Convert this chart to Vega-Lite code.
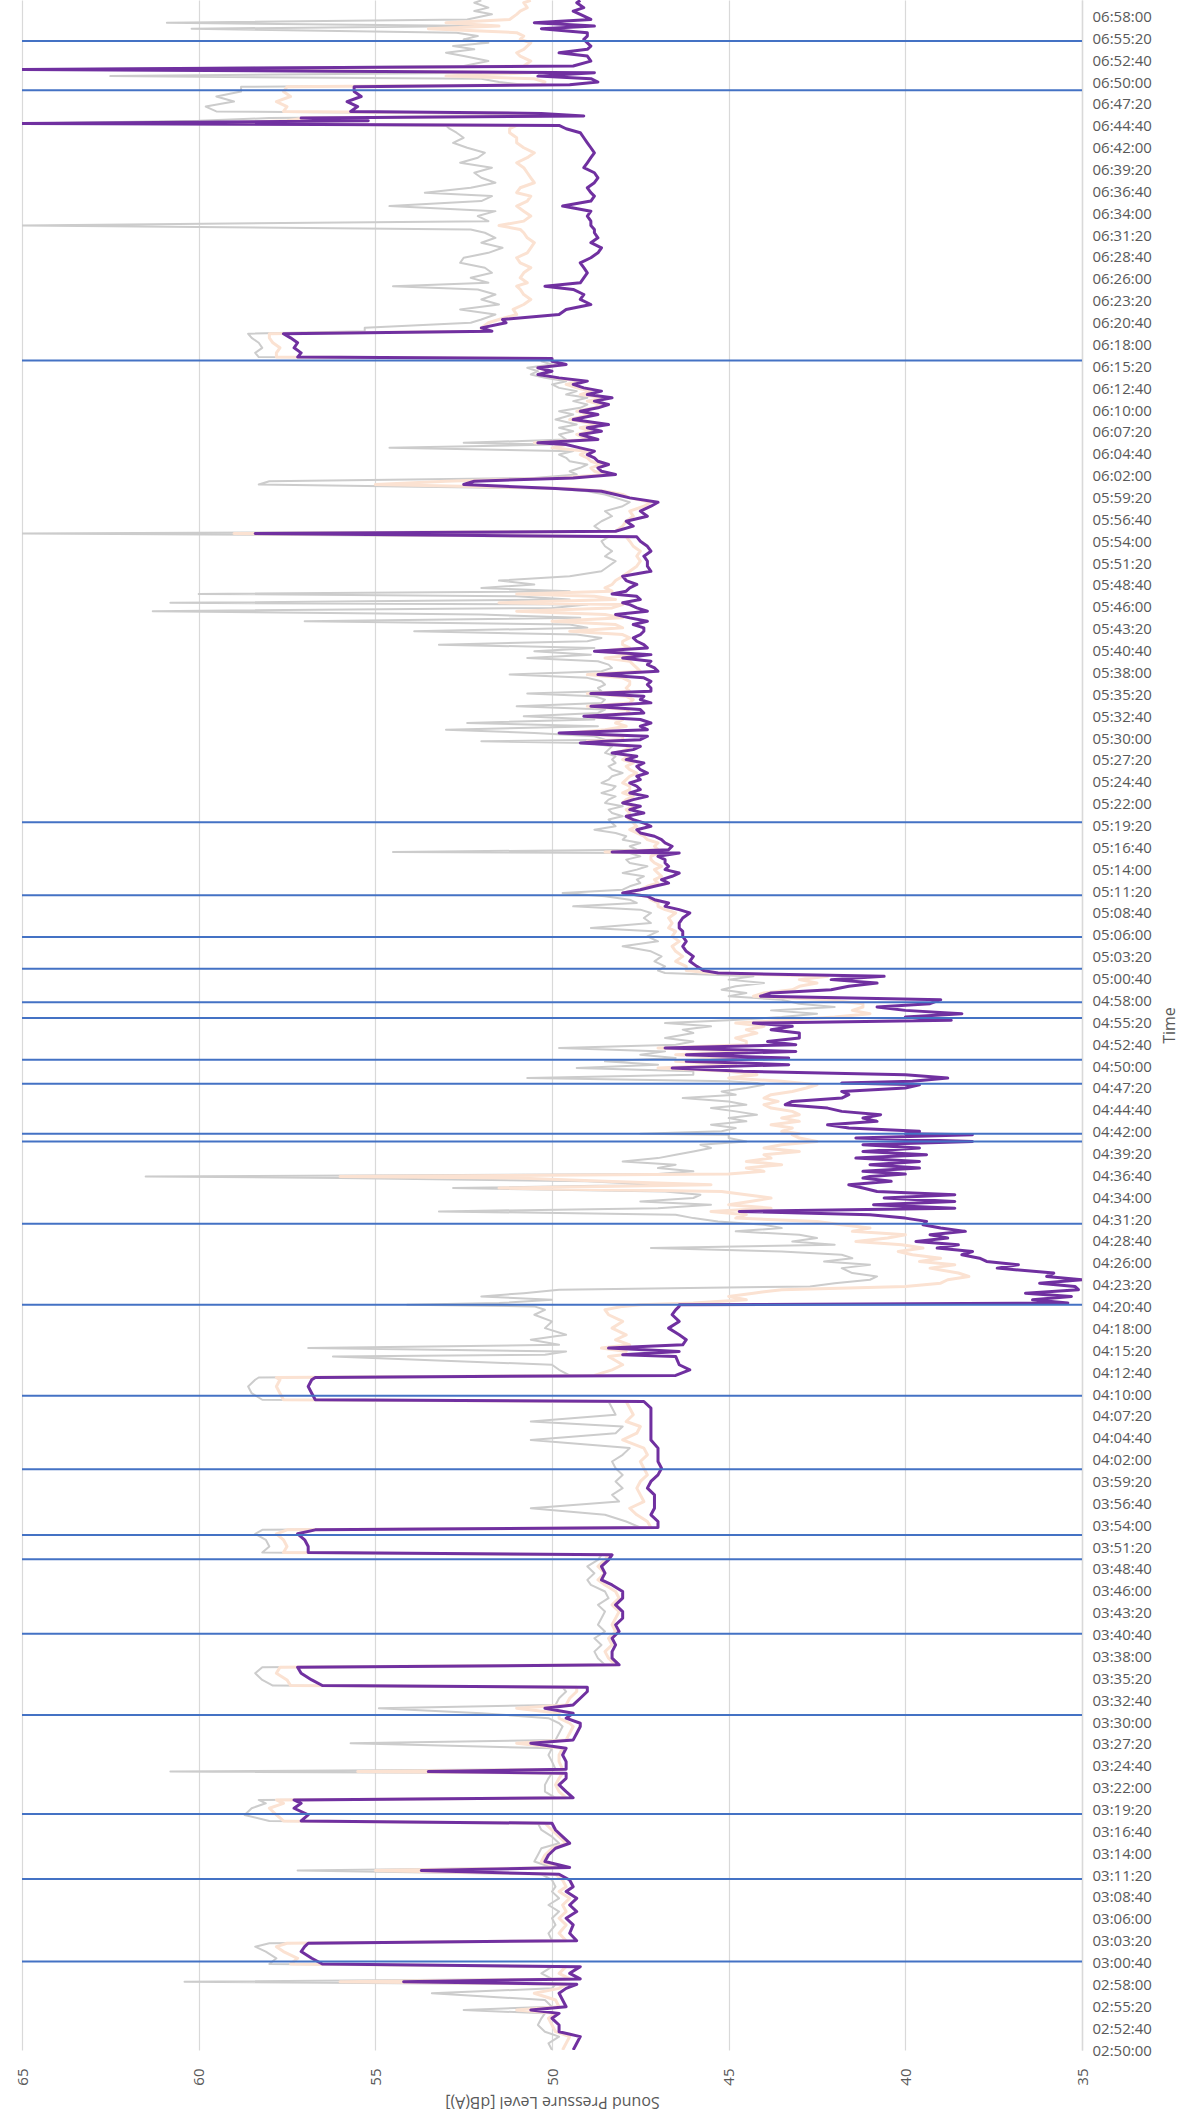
{
  "$schema": "https://vega.github.io/schema/vega-lite/v6.json",
  "width": 1060,
  "height": 2050,
  "padding": {"left": 15, "top": 0, "right": 0, "bottom": 0},
  "background": "white",
  "config": {"view": {"stroke": null}, "font": "Open Sans"},
  "datasets": {
    "levels": [
      {"t":10200,"upper":50.0,"middle":49.7,"lower":49.4},
      {"t":10249,"upper":50.1,"middle":49.6,"lower":49.3},
      {"t":10298,"upper":49.8,"middle":49.5,"lower":49.2},
      {"t":10334,"upper":50.2,"middle":49.9,"lower":49.8},
      {"t":10383,"upper":50.4,"middle":50.0,"lower":49.8},
      {"t":10432,"upper":50.3,"middle":50.1,"lower":50.0},
      {"t":10468,"upper":50.2,"middle":49.9,"lower":49.8},
      {"t":10493,"upper":52.5,"middle":51.0,"lower":50.6},
      {"t":10517,"upper":50.0,"middle":49.8,"lower":49.6},
      {"t":10566,"upper":50.2,"middle":49.9,"lower":49.7},
      {"t":10615,"upper":53.4,"middle":50.5,"lower":49.8},
      {"t":10651,"upper":50.0,"middle":49.8,"lower":49.6},
      {"t":10681,"upper":49.9,"middle":49.6,"lower":49.3},
      {"t":10700,"upper":60.4,"middle":56.0,"lower":54.2},
      {"t":10720,"upper":50.0,"middle":49.5,"lower":49.2},
      {"t":10761,"upper":50.3,"middle":49.8,"lower":49.5},
      {"t":10810,"upper":50.0,"middle":49.6,"lower":49.2},
      {"t":10829,"upper":58.0,"middle":57.4,"lower":56.5},
      {"t":10871,"upper":57.8,"middle":57.2,"lower":56.8},
      {"t":10920,"upper":58.1,"middle":57.6,"lower":57.1},
      {"t":10956,"upper":58.4,"middle":57.8,"lower":57.0},
      {"t":10981,"upper":58.0,"middle":57.5,"lower":56.9},
      {"t":11000,"upper":50.0,"middle":49.6,"lower":49.3},
      {"t":11054,"upper":50.1,"middle":49.8,"lower":49.5},
      {"t":11115,"upper":49.9,"middle":49.6,"lower":49.4},
      {"t":11164,"upper":50.0,"middle":49.8,"lower":49.6},
      {"t":11213,"upper":49.8,"middle":49.6,"lower":49.3},
      {"t":11261,"upper":50.1,"middle":49.7,"lower":49.5},
      {"t":11310,"upper":49.8,"middle":49.5,"lower":49.3},
      {"t":11359,"upper":50.0,"middle":49.8,"lower":49.6},
      {"t":11395,"upper":49.9,"middle":49.6,"lower":49.4},
      {"t":11444,"upper":50.0,"middle":49.7,"lower":49.5},
      {"t":11486,"upper":50.3,"middle":49.9,"lower":49.8},
      {"t":11513,"upper":57.2,"middle":55.0,"lower":53.7},
      {"t":11535,"upper":50.0,"middle":49.8,"lower":49.5},
      {"t":11579,"upper":50.5,"middle":50.3,"lower":50.2},
      {"t":11627,"upper":50.4,"middle":50.2,"lower":50.1},
      {"t":11676,"upper":50.3,"middle":50.0,"lower":49.9},
      {"t":11713,"upper":49.8,"middle":49.6,"lower":49.5},
      {"t":11761,"upper":50.0,"middle":49.8,"lower":49.7},
      {"t":11810,"upper":50.3,"middle":50.0,"lower":49.9},
      {"t":11859,"upper":50.4,"middle":50.2,"lower":50.0},
      {"t":11876,"upper":58.0,"middle":57.6,"lower":57.1},
      {"t":11920,"upper":58.7,"middle":57.8,"lower":56.9},
      {"t":11969,"upper":58.5,"middle":58.0,"lower":57.3},
      {"t":12005,"upper":58.1,"middle":57.6,"lower":57.1},
      {"t":12030,"upper":58.3,"middle":57.8,"lower":57.3},
      {"t":12045,"upper":49.9,"middle":49.6,"lower":49.4},
      {"t":12091,"upper":50.2,"middle":49.8,"lower":49.6},
      {"t":12140,"upper":50.2,"middle":49.9,"lower":49.8},
      {"t":12188,"upper":50.1,"middle":49.8,"lower":49.6},
      {"t":12225,"upper":50.0,"middle":49.7,"lower":49.6},
      {"t":12237,"upper":60.8,"middle":55.5,"lower":53.5},
      {"t":12254,"upper":49.9,"middle":49.7,"lower":49.6},
      {"t":12310,"upper":50.0,"middle":49.8,"lower":49.6},
      {"t":12359,"upper":50.1,"middle":49.8,"lower":49.7},
      {"t":12408,"upper":50.0,"middle":49.7,"lower":49.6},
      {"t":12445,"upper":55.7,"middle":51.0,"lower":50.6},
      {"t":12469,"upper":49.9,"middle":49.6,"lower":49.4},
      {"t":12518,"upper":49.8,"middle":49.5,"lower":49.3},
      {"t":12567,"upper":49.7,"middle":49.4,"lower":49.2},
      {"t":12591,"upper":49.8,"middle":49.5,"lower":49.2},
      {"t":12628,"upper":50.1,"middle":49.8,"lower":49.6},
      {"t":12664,"upper":52.0,"middle":49.8,"lower":49.4},
      {"t":12701,"upper":54.9,"middle":51.0,"lower":50.2},
      {"t":12725,"upper":49.9,"middle":49.6,"lower":49.4},
      {"t":12774,"upper":49.8,"middle":49.5,"lower":49.2},
      {"t":12823,"upper":49.6,"middle":49.3,"lower":49.0},
      {"t":12854,"upper":49.7,"middle":49.3,"lower":49.0},
      {"t":12867,"upper":57.9,"middle":57.4,"lower":56.5},
      {"t":12908,"upper":58.2,"middle":57.5,"lower":56.8},
      {"t":12957,"upper":58.4,"middle":57.8,"lower":57.1},
      {"t":13001,"upper":58.2,"middle":57.7,"lower":57.2},
      {"t":13018,"upper":48.5,"middle":48.2,"lower":48.1},
      {"t":13067,"upper":48.7,"middle":48.4,"lower":48.3},
      {"t":13115,"upper":48.8,"middle":48.5,"lower":48.3},
      {"t":13164,"upper":48.6,"middle":48.3,"lower":48.2},
      {"t":13213,"upper":48.8,"middle":48.4,"lower":48.3},
      {"t":13262,"upper":48.5,"middle":48.2,"lower":48.1},
      {"t":13311,"upper":48.7,"middle":48.3,"lower":48.2},
      {"t":13359,"upper":48.6,"middle":48.2,"lower":48.0},
      {"t":13408,"upper":48.5,"middle":48.1,"lower":48.0},
      {"t":13457,"upper":48.7,"middle":48.3,"lower":48.2},
      {"t":13506,"upper":48.4,"middle":48.1,"lower":48.0},
      {"t":13555,"upper":48.5,"middle":48.2,"lower":48.0},
      {"t":13603,"upper":48.9,"middle":48.5,"lower":48.3},
      {"t":13640,"upper":49.0,"middle":48.7,"lower":48.6},
      {"t":13689,"upper":48.8,"middle":48.5,"lower":48.5},
      {"t":13738,"upper":49.0,"middle":48.7,"lower":48.6},
      {"t":13786,"upper":48.7,"middle":48.5,"lower":48.4},
      {"t":13823,"upper":48.6,"middle":48.4,"lower":48.3},
      {"t":13840,"upper":58.2,"middle":57.6,"lower":56.9},
      {"t":13884,"upper":58.0,"middle":57.5,"lower":56.9},
      {"t":13933,"upper":58.1,"middle":57.6,"lower":57.0},
      {"t":13977,"upper":58.4,"middle":57.8,"lower":57.2},
      {"t":14006,"upper":58.2,"middle":57.5,"lower":56.7},
      {"t":14023,"upper":47.5,"middle":47.2,"lower":47.0},
      {"t":14067,"upper":47.9,"middle":47.3,"lower":47.0},
      {"t":14116,"upper":48.5,"middle":47.6,"lower":47.2},
      {"t":14164,"upper":50.6,"middle":47.8,"lower":47.1},
      {"t":14213,"upper":48.1,"middle":47.4,"lower":47.1},
      {"t":14262,"upper":48.3,"middle":47.5,"lower":47.1},
      {"t":14311,"upper":48.0,"middle":47.6,"lower":47.3},
      {"t":14360,"upper":48.2,"middle":47.5,"lower":47.2},
      {"t":14408,"upper":48.0,"middle":47.3,"lower":47.0},
      {"t":14457,"upper":48.2,"middle":47.4,"lower":46.9},
      {"t":14506,"upper":48.3,"middle":47.5,"lower":47.0},
      {"t":14555,"upper":48.0,"middle":47.3,"lower":47.0},
      {"t":14604,"upper":47.8,"middle":47.4,"lower":47.0},
      {"t":14664,"upper":50.6,"middle":48.0,"lower":47.2},
      {"t":14713,"upper":48.2,"middle":47.6,"lower":47.2},
      {"t":14762,"upper":48.0,"middle":47.5,"lower":47.2},
      {"t":14799,"upper":50.6,"middle":47.9,"lower":47.2},
      {"t":14848,"upper":48.2,"middle":47.7,"lower":47.2},
      {"t":14897,"upper":48.3,"middle":47.8,"lower":47.2},
      {"t":14945,"upper":48.4,"middle":47.9,"lower":47.4},
      {"t":14958,"upper":58.2,"middle":57.6,"lower":56.7},
      {"t":15006,"upper":58.5,"middle":57.7,"lower":56.8},
      {"t":15055,"upper":58.6,"middle":57.8,"lower":56.9},
      {"t":15104,"upper":58.4,"middle":57.7,"lower":56.8},
      {"t":15121,"upper":58.3,"middle":57.8,"lower":56.7},
      {"t":15136,"upper":49.5,"middle":48.8,"lower":46.5},
      {"t":15177,"upper":49.8,"middle":48.3,"lower":46.1},
      {"t":15214,"upper":50.0,"middle":48.0,"lower":46.4},
      {"t":15275,"upper":56.2,"middle":48.4,"lower":46.5},
      {"t":15287,"upper":50.2,"middle":48.0,"lower":48.0},
      {"t":15311,"upper":49.6,"middle":47.9,"lower":46.4},
      {"t":15336,"upper":56.9,"middle":48.6,"lower":48.4},
      {"t":15360,"upper":49.8,"middle":47.8,"lower":46.3},
      {"t":15397,"upper":50.6,"middle":48.2,"lower":46.2},
      {"t":15433,"upper":49.6,"middle":47.9,"lower":46.4},
      {"t":15482,"upper":50.2,"middle":48.3,"lower":46.7},
      {"t":15531,"upper":50.0,"middle":48.0,"lower":46.4},
      {"t":15580,"upper":50.5,"middle":48.4,"lower":46.6},
      {"t":15616,"upper":50.2,"middle":48.5,"lower":46.5},
      {"t":15641,"upper":50.5,"middle":48.0,"lower":46.4},
      {"t":15653,"upper":54.1,"middle":47.5,"lower":46.4},
      {"t":15665,"upper":51.5,"middle":46.0,"lower":35.4},
      {"t":15689,"upper":50.0,"middle":44.5,"lower":36.4},
      {"t":15714,"upper":52.0,"middle":45.0,"lower":35.3},
      {"t":15738,"upper":50.8,"middle":44.3,"lower":36.6},
      {"t":15763,"upper":49.8,"middle":43.5,"lower":35.1},
      {"t":15787,"upper":42.7,"middle":40.0,"lower":35.2},
      {"t":15811,"upper":42.0,"middle":39.0,"lower":36.2},
      {"t":15836,"upper":41.0,"middle":38.8,"lower":35.0},
      {"t":15860,"upper":40.8,"middle":38.2,"lower":36.0},
      {"t":15885,"upper":41.5,"middle":38.5,"lower":35.8},
      {"t":15921,"upper":41.8,"middle":39.3,"lower":37.4},
      {"t":15946,"upper":41.0,"middle":38.6,"lower":36.8},
      {"t":15970,"upper":42.3,"middle":39.6,"lower":37.7},
      {"t":15994,"upper":41.5,"middle":39.0,"lower":37.9},
      {"t":16019,"upper":41.8,"middle":39.8,"lower":38.4},
      {"t":16043,"upper":43.5,"middle":40.2,"lower":38.1},
      {"t":16068,"upper":47.2,"middle":39.5,"lower":39.1},
      {"t":16092,"upper":42.0,"middle":40.1,"lower":38.5},
      {"t":16116,"upper":43.2,"middle":41.4,"lower":39.7},
      {"t":16141,"upper":42.5,"middle":40.5,"lower":38.8},
      {"t":16165,"upper":43.0,"middle":40.0,"lower":39.3},
      {"t":16190,"upper":44.8,"middle":41.5,"lower":38.3},
      {"t":16214,"upper":43.5,"middle":41.0,"lower":39.0},
      {"t":16238,"upper":44.0,"middle":41.8,"lower":39.5},
      {"t":16263,"upper":45.3,"middle":42.5,"lower":39.4},
      {"t":16287,"upper":46.0,"middle":44.8,"lower":40.0},
      {"t":16312,"upper":46.5,"middle":44.5,"lower":41.0},
      {"t":16336,"upper":53.2,"middle":45.5,"lower":44.7},
      {"t":16360,"upper":47.0,"middle":43.8,"lower":38.6},
      {"t":16385,"upper":45.5,"middle":45.0,"lower":40.9},
      {"t":16409,"upper":47.5,"middle":44.4,"lower":38.6},
      {"t":16434,"upper":46.0,"middle":43.8,"lower":40.6},
      {"t":16458,"upper":45.8,"middle":44.5,"lower":38.6},
      {"t":16482,"upper":46.8,"middle":45.2,"lower":40.8},
      {"t":16507,"upper":52.8,"middle":51.5,"lower":41.2},
      {"t":16531,"upper":47.0,"middle":45.5,"lower":41.6},
      {"t":16556,"upper":49.0,"middle":48.5,"lower":40.4},
      {"t":16580,"upper":56.0,"middle":51.0,"lower":41.2},
      {"t":16592,"upper":61.5,"middle":56.0,"lower":41.0},
      {"t":16609,"upper":47.0,"middle":45.0,"lower":40.0},
      {"t":16629,"upper":46.0,"middle":44.0,"lower":41.2},
      {"t":16653,"upper":47.0,"middle":44.5,"lower":39.6},
      {"t":16678,"upper":46.5,"middle":43.5,"lower":41.0},
      {"t":16702,"upper":48.0,"middle":44.5,"lower":39.6},
      {"t":16726,"upper":47.0,"middle":43.8,"lower":41.4},
      {"t":16751,"upper":46.5,"middle":44.0,"lower":39.4},
      {"t":16775,"upper":46.0,"middle":43.0,"lower":41.2},
      {"t":16800,"upper":45.5,"middle":44.0,"lower":39.6},
      {"t":16824,"upper":45.8,"middle":43.5,"lower":41.2},
      {"t":16848,"upper":44.5,"middle":42.5,"lower":38.1},
      {"t":16873,"upper":45.0,"middle":43.0,"lower":41.4},
      {"t":16897,"upper":45.0,"middle":43.2,"lower":38.1},
      {"t":16905,"upper":47.5,"middle":43.0,"lower":40.0},
      {"t":16922,"upper":45.2,"middle":43.5,"lower":39.6},
      {"t":16946,"upper":44.8,"middle":43.2,"lower":41.6},
      {"t":16970,"upper":45.5,"middle":43.8,"lower":42.2},
      {"t":16995,"upper":44.5,"middle":43.0,"lower":40.8},
      {"t":17019,"upper":45.0,"middle":43.5,"lower":41.2},
      {"t":17044,"upper":44.2,"middle":43.0,"lower":40.7},
      {"t":17068,"upper":44.8,"middle":43.2,"lower":41.8},
      {"t":17092,"upper":45.5,"middle":43.8,"lower":42.2},
      {"t":17117,"upper":44.5,"middle":44.0,"lower":43.4},
      {"t":17141,"upper":45.0,"middle":43.6,"lower":43.2},
      {"t":17165,"upper":46.3,"middle":44.0,"lower":41.8},
      {"t":17190,"upper":44.8,"middle":43.8,"lower":41.6},
      {"t":17214,"upper":45.2,"middle":43.2,"lower":41.8},
      {"t":17239,"upper":44.5,"middle":42.8,"lower":40.0},
      {"t":17263,"upper":44.0,"middle":42.5,"lower":39.6},
      {"t":17275,"upper":44.2,"middle":43.0,"lower":41.8},
      {"t":17288,"upper":45.0,"middle":43.5,"lower":39.8},
      {"t":17312,"upper":50.7,"middle":45.0,"lower":38.8},
      {"t":17336,"upper":46.0,"middle":44.2,"lower":40.0},
      {"t":17361,"upper":46.0,"middle":45.0,"lower":44.6},
      {"t":17385,"upper":49.3,"middle":47.0,"lower":46.6},
      {"t":17410,"upper":47.0,"middle":44.8,"lower":43.3},
      {"t":17434,"upper":48.5,"middle":46.5,"lower":46.2},
      {"t":17458,"upper":46.5,"middle":44.8,"lower":43.3},
      {"t":17483,"upper":47.5,"middle":46.5,"lower":46.2},
      {"t":17507,"upper":46.8,"middle":44.5,"lower":43.1},
      {"t":17532,"upper":49.8,"middle":47.0,"lower":46.8},
      {"t":17556,"upper":46.5,"middle":44.5,"lower":43.1},
      {"t":17580,"upper":46.0,"middle":44.5,"lower":43.9},
      {"t":17605,"upper":46.8,"middle":44.8,"lower":43.0},
      {"t":17641,"upper":46.0,"middle":44.2,"lower":43.0},
      {"t":17666,"upper":46.3,"middle":44.5,"lower":43.8},
      {"t":17690,"upper":45.5,"middle":44.0,"lower":43.2},
      {"t":17714,"upper":46.8,"middle":44.8,"lower":44.3},
      {"t":17734,"upper":45.0,"middle":43.5,"lower":38.7},
      {"t":17758,"upper":43.5,"middle":42.0,"lower":40.0},
      {"t":17783,"upper":42.5,"middle":41.0,"lower":38.4},
      {"t":17807,"upper":43.8,"middle":41.5,"lower":40.0},
      {"t":17832,"upper":42.0,"middle":41.2,"lower":40.8},
      {"t":17856,"upper":43.0,"middle":41.2,"lower":39.3},
      {"t":17885,"upper":43.5,"middle":42.2,"lower":39.0},
      {"t":17910,"upper":45.0,"middle":44.3,"lower":44.1},
      {"t":17934,"upper":44.5,"middle":44.0,"lower":43.8},
      {"t":17958,"upper":45.2,"middle":43.2,"lower":42.1},
      {"t":17983,"upper":44.8,"middle":43.0,"lower":41.6},
      {"t":18007,"upper":44.0,"middle":42.5,"lower":40.8},
      {"t":18032,"upper":45.0,"middle":43.0,"lower":42.1},
      {"t":18056,"upper":44.3,"middle":42.2,"lower":40.6},
      {"t":18080,"upper":46.8,"middle":45.5,"lower":45.3},
      {"t":18098,"upper":47.0,"middle":46.2,"lower":45.7},
      {"t":18129,"upper":46.8,"middle":46.2,"lower":45.9},
      {"t":18166,"upper":47.1,"middle":46.5,"lower":46.1},
      {"t":18202,"upper":46.9,"middle":46.3,"lower":46.0},
      {"t":18239,"upper":47.2,"middle":46.5,"lower":46.2},
      {"t":18276,"upper":48.0,"middle":46.6,"lower":46.3},
      {"t":18312,"upper":47.0,"middle":46.4,"lower":46.2},
      {"t":18349,"upper":47.3,"middle":46.6,"lower":46.3},
      {"t":18385,"upper":47.0,"middle":46.5,"lower":46.3},
      {"t":18410,"upper":48.9,"middle":46.7,"lower":46.4},
      {"t":18446,"upper":47.2,"middle":46.6,"lower":46.4},
      {"t":18483,"upper":47.4,"middle":46.7,"lower":46.3},
      {"t":18520,"upper":47.2,"middle":46.5,"lower":46.1},
      {"t":18544,"upper":47.5,"middle":46.8,"lower":46.4},
      {"t":18568,"upper":49.4,"middle":47.0,"lower":46.8},
      {"t":18593,"upper":47.6,"middle":47.0,"lower":46.7},
      {"t":18617,"upper":47.8,"middle":47.2,"lower":47.1},
      {"t":18642,"upper":48.5,"middle":47.3,"lower":47.3},
      {"t":18666,"upper":49.7,"middle":48.0,"lower":48.0},
      {"t":18690,"upper":48.0,"middle":47.5,"lower":47.5},
      {"t":18715,"upper":47.8,"middle":47.3,"lower":47.1},
      {"t":18739,"upper":47.5,"middle":47.0,"lower":46.7},
      {"t":18764,"upper":47.6,"middle":47.1,"lower":46.9},
      {"t":18788,"upper":47.4,"middle":46.9,"lower":46.6},
      {"t":18812,"upper":48.0,"middle":47.0,"lower":46.4},
      {"t":18837,"upper":47.6,"middle":47.1,"lower":46.8},
      {"t":18861,"upper":47.3,"middle":46.9,"lower":46.7},
      {"t":18886,"upper":47.8,"middle":47.1,"lower":46.8},
      {"t":18910,"upper":47.9,"middle":47.2,"lower":46.8},
      {"t":18934,"upper":47.5,"middle":47.2,"lower":47.0},
      {"t":18959,"upper":47.8,"middle":47.0,"lower":46.4},
      {"t":18966,"upper":54.5,"middle":48.5,"lower":48.3},
      {"t":18983,"upper":47.6,"middle":47.0,"lower":46.7},
      {"t":19008,"upper":47.8,"middle":47.1,"lower":46.6},
      {"t":19032,"upper":47.5,"middle":47.0,"lower":46.8},
      {"t":19056,"upper":48.0,"middle":47.3,"lower":46.9},
      {"t":19081,"upper":47.9,"middle":47.4,"lower":47.1},
      {"t":19105,"upper":48.2,"middle":47.6,"lower":47.5},
      {"t":19129,"upper":48.8,"middle":47.8,"lower":47.6},
      {"t":19154,"upper":48.2,"middle":47.6,"lower":47.2},
      {"t":19178,"upper":48.3,"middle":47.7,"lower":47.4},
      {"t":19203,"upper":48.4,"middle":47.8,"lower":47.7},
      {"t":19227,"upper":48.0,"middle":47.9,"lower":47.9},
      {"t":19251,"upper":48.3,"middle":47.8,"lower":47.4},
      {"t":19276,"upper":48.4,"middle":47.9,"lower":47.8},
      {"t":19300,"upper":48.0,"middle":47.7,"lower":47.5},
      {"t":19325,"upper":48.5,"middle":48.0,"lower":48.0},
      {"t":19349,"upper":48.4,"middle":47.9,"lower":47.7},
      {"t":19373,"upper":48.2,"middle":47.7,"lower":47.3},
      {"t":19398,"upper":48.6,"middle":48.0,"lower":47.8},
      {"t":19422,"upper":48.3,"middle":47.8,"lower":47.5},
      {"t":19447,"upper":48.2,"middle":47.8,"lower":47.6},
      {"t":19471,"upper":48.6,"middle":48.0,"lower":47.8},
      {"t":19495,"upper":48.4,"middle":47.9,"lower":47.5},
      {"t":19520,"upper":48.3,"middle":47.8,"lower":47.6},
      {"t":19544,"upper":48.0,"middle":47.6,"lower":47.3},
      {"t":19569,"upper":48.3,"middle":47.8,"lower":47.5},
      {"t":19593,"upper":48.4,"middle":47.9,"lower":47.6},
      {"t":19617,"upper":48.2,"middle":47.7,"lower":47.4},
      {"t":19642,"upper":48.3,"middle":48.0,"lower":47.9},
      {"t":19666,"upper":48.2,"middle":47.8,"lower":47.6},
      {"t":19691,"upper":48.5,"middle":48.2,"lower":48.3},
      {"t":19715,"upper":48.4,"middle":47.9,"lower":47.7},
      {"t":19739,"upper":48.3,"middle":47.8,"lower":47.5},
      {"t":19764,"upper":49.0,"middle":48.6,"lower":49.2},
      {"t":19776,"upper":52.0,"middle":49.0,"lower":48.5},
      {"t":19788,"upper":48.5,"middle":48.0,"lower":47.5},
      {"t":19813,"upper":48.8,"middle":48.0,"lower":47.3},
      {"t":19837,"upper":50.5,"middle":49.5,"lower":49.8},
      {"t":19861,"upper":53.0,"middle":48.5,"lower":47.3},
      {"t":19886,"upper":48.7,"middle":47.9,"lower":47.5},
      {"t":19910,"upper":52.4,"middle":48.2,"lower":47.2},
      {"t":19935,"upper":48.8,"middle":48.0,"lower":47.5},
      {"t":19959,"upper":50.8,"middle":49.0,"lower":49.1},
      {"t":19983,"upper":48.7,"middle":47.8,"lower":47.4},
      {"t":20008,"upper":48.5,"middle":47.9,"lower":47.5},
      {"t":20032,"upper":51.0,"middle":49.0,"lower":48.9},
      {"t":20057,"upper":48.6,"middle":47.8,"lower":47.2},
      {"t":20081,"upper":48.5,"middle":47.7,"lower":47.5},
      {"t":20105,"upper":48.8,"middle":47.9,"lower":47.4},
      {"t":20125,"upper":50.7,"middle":49.0,"lower":48.9},
      {"t":20142,"upper":48.6,"middle":47.8,"lower":47.2},
      {"t":20166,"upper":48.7,"middle":47.9,"lower":47.2},
      {"t":20191,"upper":48.5,"middle":47.8,"lower":47.3},
      {"t":20215,"upper":48.6,"middle":47.8,"lower":47.2},
      {"t":20240,"upper":49.0,"middle":48.0,"lower":47.4},
      {"t":20264,"upper":51.2,"middle":49.0,"lower":48.7},
      {"t":20288,"upper":48.6,"middle":47.5,"lower":47.0},
      {"t":20313,"upper":48.3,"middle":47.6,"lower":47.1},
      {"t":20337,"upper":48.4,"middle":47.7,"lower":47.3},
      {"t":20362,"upper":48.7,"middle":47.8,"lower":47.2},
      {"t":20386,"upper":50.7,"middle":48.5,"lower":48.0},
      {"t":20410,"upper":48.9,"middle":47.6,"lower":47.2},
      {"t":20435,"upper":50.5,"middle":48.6,"lower":48.8},
      {"t":20459,"upper":48.8,"middle":47.8,"lower":47.3},
      {"t":20483,"upper":53.2,"middle":48.0,"lower":47.4},
      {"t":20508,"upper":49.0,"middle":48.0,"lower":47.6},
      {"t":20532,"upper":48.6,"middle":47.8,"lower":47.7},
      {"t":20557,"upper":49.3,"middle":48.0,"lower":47.5},
      {"t":20581,"upper":53.9,"middle":49.5,"lower":47.4},
      {"t":20606,"upper":49.0,"middle":48.0,"lower":47.4},
      {"t":20630,"upper":49.5,"middle":48.2,"lower":47.7},
      {"t":20654,"upper":57.0,"middle":50.0,"lower":47.3},
      {"t":20679,"upper":49.2,"middle":48.0,"lower":47.8},
      {"t":20703,"upper":52.0,"middle":48.5,"lower":48.2},
      {"t":20728,"upper":61.3,"middle":51.0,"lower":47.3},
      {"t":20752,"upper":50.0,"middle":48.3,"lower":47.6},
      {"t":20776,"upper":49.0,"middle":48.0,"lower":47.8},
      {"t":20789,"upper":60.8,"middle":51.5,"lower":48.0},
      {"t":20813,"upper":49.5,"middle":48.2,"lower":47.5},
      {"t":20837,"upper":51.0,"middle":48.8,"lower":47.6},
      {"t":20854,"upper":60.0,"middle":51.0,"lower":48.3},
      {"t":20874,"upper":49.5,"middle":48.3,"lower":47.9},
      {"t":20898,"upper":52.0,"middle":48.5,"lower":47.8},
      {"t":20923,"upper":50.5,"middle":48.3,"lower":47.6},
      {"t":20952,"upper":51.5,"middle":48.2,"lower":47.9},
      {"t":20984,"upper":49.5,"middle":48.0,"lower":48.0},
      {"t":21020,"upper":48.6,"middle":47.8,"lower":47.2},
      {"t":21057,"upper":48.4,"middle":47.6,"lower":47.3},
      {"t":21094,"upper":48.2,"middle":47.5,"lower":47.3},
      {"t":21130,"upper":48.5,"middle":47.6,"lower":47.4},
      {"t":21167,"upper":48.3,"middle":47.5,"lower":47.2},
      {"t":21203,"upper":48.5,"middle":47.7,"lower":47.3},
      {"t":21240,"upper":48.6,"middle":47.8,"lower":47.5},
      {"t":21272,"upper":48.4,"middle":47.9,"lower":47.6},
      {"t":21296,"upper":65.0,"middle":59.0,"lower":58.4},
      {"t":21313,"upper":48.6,"middle":48.2,"lower":48.2},
      {"t":21350,"upper":48.8,"middle":48.0,"lower":47.7},
      {"t":21386,"upper":48.6,"middle":47.9,"lower":47.9},
      {"t":21423,"upper":48.3,"middle":47.7,"lower":47.3},
      {"t":21460,"upper":48.5,"middle":47.8,"lower":47.5},
      {"t":21496,"upper":48.0,"middle":47.4,"lower":47.2},
      {"t":21525,"upper":47.8,"middle":47.2,"lower":47.0},
      {"t":21557,"upper":48.2,"middle":47.8,"lower":47.8},
      {"t":21582,"upper":48.5,"middle":48.0,"lower":48.2},
      {"t":21606,"upper":49.0,"middle":48.5,"lower":48.6},
      {"t":21625,"upper":50.0,"middle":49.5,"lower":49.9},
      {"t":21655,"upper":58.3,"middle":55.0,"lower":52.5},
      {"t":21679,"upper":58.0,"middle":53.0,"lower":52.2},
      {"t":21703,"upper":50.5,"middle":49.8,"lower":49.4},
      {"t":21728,"upper":49.3,"middle":48.5,"lower":48.2},
      {"t":21752,"upper":49.5,"middle":48.8,"lower":48.6},
      {"t":21777,"upper":49.2,"middle":48.9,"lower":48.7},
      {"t":21801,"upper":49.0,"middle":48.6,"lower":48.4},
      {"t":21825,"upper":49.5,"middle":48.9,"lower":48.7},
      {"t":21850,"upper":49.6,"middle":49.0,"lower":48.8},
      {"t":21874,"upper":49.8,"middle":49.2,"lower":49.0},
      {"t":21899,"upper":49.4,"middle":49.0,"lower":48.8},
      {"t":21923,"upper":54.6,"middle":50.0,"lower":49.2},
      {"t":21947,"upper":50.0,"middle":49.6,"lower":49.6},
      {"t":21960,"upper":52.5,"middle":50.5,"lower":50.4},
      {"t":21984,"upper":49.6,"middle":49.0,"lower":48.7},
      {"t":22021,"upper":49.8,"middle":49.3,"lower":49.2},
      {"t":22045,"upper":49.4,"middle":48.9,"lower":48.6},
      {"t":22070,"upper":49.8,"middle":49.2,"lower":49.0},
      {"t":22094,"upper":49.3,"middle":48.7,"lower":48.4},
      {"t":22130,"upper":49.9,"middle":49.5,"lower":49.4},
      {"t":22167,"upper":49.4,"middle":48.9,"lower":48.7},
      {"t":22191,"upper":49.8,"middle":49.3,"lower":49.2},
      {"t":22216,"upper":49.2,"middle":48.8,"lower":48.7},
      {"t":22240,"upper":49.0,"middle":48.6,"lower":48.4},
      {"t":22265,"upper":49.4,"middle":49.0,"lower":48.8},
      {"t":22289,"upper":49.0,"middle":48.5,"lower":48.3},
      {"t":22313,"upper":49.6,"middle":49.2,"lower":49.0},
      {"t":22338,"upper":49.3,"middle":48.9,"lower":48.6},
      {"t":22362,"upper":49.8,"middle":49.3,"lower":49.1},
      {"t":22387,"upper":50.0,"middle":49.6,"lower":49.4},
      {"t":22411,"upper":49.6,"middle":49.2,"lower":49.0},
      {"t":22435,"upper":50.2,"middle":49.9,"lower":49.8},
      {"t":22460,"upper":50.6,"middle":50.3,"lower":50.4},
      {"t":22484,"upper":50.4,"middle":50.1,"lower":50.0},
      {"t":22509,"upper":50.7,"middle":50.4,"lower":50.4},
      {"t":22533,"upper":50.0,"middle":49.7,"lower":49.6},
      {"t":22557,"upper":50.3,"middle":50.0,"lower":50.0},
      {"t":22577,"upper":50.2,"middle":50.0,"lower":50.0},
      {"t":22587,"upper":58.3,"middle":57.8,"lower":57.2},
      {"t":22618,"upper":58.4,"middle":57.8,"lower":57.1},
      {"t":22655,"upper":58.2,"middle":57.7,"lower":57.3},
      {"t":22692,"upper":58.3,"middle":57.9,"lower":57.2},
      {"t":22728,"upper":58.5,"middle":58.0,"lower":57.4},
      {"t":22758,"upper":58.6,"middle":58.0,"lower":57.6},
      {"t":22777,"upper":55.3,"middle":52.0,"lower":51.7},
      {"t":22801,"upper":55.3,"middle":52.0,"lower":52.0},
      {"t":22838,"upper":52.3,"middle":51.8,"lower":51.3},
      {"t":22862,"upper":52.0,"middle":51.5,"lower":51.4},
      {"t":22899,"upper":51.6,"middle":51.0,"lower":49.8},
      {"t":22936,"upper":52.6,"middle":51.1,"lower":49.6},
      {"t":22972,"upper":51.5,"middle":50.8,"lower":48.9},
      {"t":23009,"upper":52.0,"middle":50.6,"lower":49.2},
      {"t":23045,"upper":51.6,"middle":50.8,"lower":49.1},
      {"t":23082,"upper":52.1,"middle":50.9,"lower":49.4},
      {"t":23106,"upper":54.5,"middle":51.0,"lower":50.2},
      {"t":23131,"upper":51.8,"middle":50.7,"lower":49.2},
      {"t":23167,"upper":52.3,"middle":50.9,"lower":49.1},
      {"t":23204,"upper":51.7,"middle":50.8,"lower":49.0},
      {"t":23241,"upper":51.9,"middle":50.6,"lower":49.1},
      {"t":23277,"upper":52.6,"middle":50.9,"lower":49.2},
      {"t":23314,"upper":52.5,"middle":51.0,"lower":48.9},
      {"t":23350,"upper":51.8,"middle":50.7,"lower":48.7},
      {"t":23387,"upper":51.4,"middle":50.6,"lower":48.6},
      {"t":23424,"upper":52.0,"middle":50.5,"lower":48.9},
      {"t":23460,"upper":51.6,"middle":50.7,"lower":48.7},
      {"t":23497,"upper":51.9,"middle":50.8,"lower":48.8},
      {"t":23521,"upper":52.3,"middle":50.9,"lower":48.8},
      {"t":23550,"upper":65.0,"middle":51.5,"lower":48.9},
      {"t":23582,"upper":51.8,"middle":50.8,"lower":48.9},
      {"t":23619,"upper":52.1,"middle":50.6,"lower":49.0},
      {"t":23655,"upper":51.6,"middle":50.8,"lower":48.9},
      {"t":23692,"upper":54.6,"middle":51.0,"lower":49.7},
      {"t":23729,"upper":52.0,"middle":50.7,"lower":48.9},
      {"t":23765,"upper":51.7,"middle":50.6,"lower":48.8},
      {"t":23790,"upper":53.6,"middle":51.0,"lower":48.9},
      {"t":23826,"upper":52.3,"middle":50.9,"lower":49.0},
      {"t":23863,"upper":51.6,"middle":50.5,"lower":48.8},
      {"t":23899,"upper":52.0,"middle":50.6,"lower":48.7},
      {"t":23936,"upper":52.2,"middle":50.7,"lower":48.8},
      {"t":23973,"upper":51.7,"middle":50.8,"lower":49.1},
      {"t":24009,"upper":52.6,"middle":51.0,"lower":49.0},
      {"t":24046,"upper":52.1,"middle":50.7,"lower":48.9},
      {"t":24082,"upper":51.9,"middle":50.5,"lower":48.8},
      {"t":24119,"upper":52.4,"middle":50.8,"lower":48.9},
      {"t":24155,"upper":52.8,"middle":51.0,"lower":49.0},
      {"t":24192,"upper":52.5,"middle":51.0,"lower":49.1},
      {"t":24229,"upper":52.7,"middle":51.2,"lower":49.2},
      {"t":24258,"upper":52.9,"middle":51.2,"lower":49.6},
      {"t":24282,"upper":53.0,"middle":51.0,"lower":49.8},
      {"t":24297,"upper":65.0,"middle":60.0,"lower":65.0},
      {"t":24316,"upper":60.0,"middle":57.5,"lower":55.2},
      {"t":24336,"upper":58.0,"middle":57.0,"lower":57.1},
      {"t":24351,"upper":51.0,"middle":50.3,"lower":49.1},
      {"t":24370,"upper":52.0,"middle":51.0,"lower":50.3},
      {"t":24385,"upper":59.5,"middle":57.6,"lower":55.7},
      {"t":24420,"upper":59.8,"middle":57.5,"lower":55.5},
      {"t":24457,"upper":59.0,"middle":57.8,"lower":55.8},
      {"t":24494,"upper":59.5,"middle":57.4,"lower":55.4},
      {"t":24530,"upper":58.8,"middle":57.6,"lower":55.6},
      {"t":24565,"upper":58.8,"middle":57.5,"lower":55.6},
      {"t":24580,"upper":50.8,"middle":50.3,"lower":49.5},
      {"t":24600,"upper":51.5,"middle":50.2,"lower":48.7},
      {"t":24624,"upper":52.0,"middle":50.5,"lower":48.9},
      {"t":24643,"upper":62.5,"middle":53.0,"lower":50.4},
      {"t":24668,"upper":52.0,"middle":50.6,"lower":48.8},
      {"t":24692,"upper":65.0,"middle":60.0,"lower":65.0},
      {"t":24717,"upper":52.5,"middle":50.8,"lower":49.4},
      {"t":24753,"upper":51.8,"middle":50.6,"lower":48.9},
      {"t":24790,"upper":52.5,"middle":50.9,"lower":49.0},
      {"t":24814,"upper":53.0,"middle":51.0,"lower":49.8},
      {"t":24839,"upper":52.2,"middle":50.8,"lower":49.0},
      {"t":24863,"upper":52.8,"middle":50.7,"lower":48.9},
      {"t":24887,"upper":51.8,"middle":50.6,"lower":49.0},
      {"t":24912,"upper":52.5,"middle":50.9,"lower":49.1},
      {"t":24936,"upper":52.1,"middle":50.8,"lower":49.0},
      {"t":24961,"upper":52.7,"middle":51.0,"lower":49.0},
      {"t":24990,"upper":60.2,"middle":53.5,"lower":50.3},
      {"t":25009,"upper":52.0,"middle":51.5,"lower":48.8},
      {"t":25034,"upper":60.9,"middle":53.0,"lower":50.5},
      {"t":25058,"upper":52.4,"middle":51.2,"lower":48.9},
      {"t":25095,"upper":51.7,"middle":51.0,"lower":49.2},
      {"t":25119,"upper":52.2,"middle":50.9,"lower":49.4},
      {"t":25144,"upper":51.8,"middle":50.7,"lower":49.1},
      {"t":25180,"upper":52.2,"middle":50.8,"lower":49.3},
      {"t":25197,"upper":52.0,"middle":50.6,"lower":49.2}
    ],
    "events": [
      {"t":10847},{"t":11452},{"t":11927},{"t":12652},{"t":13245},{"t":13791},
      {"t":13969},{"t":14450},{"t":14987},{"t":15653},{"t":16246},{"t":16848},
      {"t":16905},{"t":17270},{"t":17446},{"t":17751},{"t":17866},{"t":18112},
      {"t":18344},{"t":18649},{"t":19183},{"t":22562},{"t":24539},{"t":24900}
    ]
  },
  "encoding": {
    "y": {
      "field": "t",
      "type": "quantitative",
      "title": "Time",
      "scale": {"domain": [10200, 25200], "nice": false, "zero": false},
      "axis": {
        "orient": "right",
        "values": [10200,10360,10520,10680,10840,11000,11160,11320,11480,11640,11800,11960,12120,12280,12440,12600,12760,12920,13080,13240,13400,13560,13720,13880,14040,14200,14360,14520,14680,14840,15000,15160,15320,15480,15640,15800,15960,16120,16280,16440,16600,16760,16920,17080,17240,17400,17560,17720,17880,18040,18200,18360,18520,18680,18840,19000,19160,19320,19480,19640,19800,19960,20120,20280,20440,20600,20760,20920,21080,21240,21400,21560,21720,21880,22040,22200,22360,22520,22680,22840,23000,23160,23320,23480,23640,23800,23960,24120,24280,24440,24600,24760,24920,25080],
        "labelExpr": "timeFormat(datetime(2000, 0, 1, 0, 0, datum.value), '%H:%M:%S')",
        "labelOverlap": false,
        "labelFlush": false,
        "labelFont": "Open Sans",
        "labelFontSize": 15,
        "labelColor": "#595959",
        "labelPadding": 10,
        "ticks": false,
        "grid": false,
        "domain": true,
        "domainColor": "#D9D9D9",
        "domainWidth": 1.5,
        "titleFont": "Open Sans",
        "titleFontSize": 16,
        "titleFontWeight": "normal",
        "titleColor": "#595959",
        "titleAngle": 270,
        "titleBaseline": "top",
        "titlePadding": 10
      }
    }
  },
  "layer": [
    {
      "data": {"name": "levels"},
      "mark": {"type": "line", "color": "#CCCCCC", "strokeWidth": 2, "strokeJoin": "round", "clip": true},
      "encoding": {
        "x": {
          "field": "upper", "type": "quantitative", "title": "Sound Pressure Level [dB(A)]",
          "scale": {"domain": [35, 65], "reverse": true, "nice": false, "zero": false},
          "axis": {
            "values": [35, 40, 45, 50, 55, 60, 65],
            "grid": true, "gridColor": "#D9D9D9", "gridWidth": 1.2,
            "domain": false, "ticks": false,
            "labelAngle": 270, "labelFlush": false, "labelFont": "Open Sans", "labelFontSize": 15,
            "labelColor": "#595959", "labelPadding": 18,
            "titleFont": "Open Sans", "titleFontSize": 16, "titleFontWeight": "normal",
            "titleColor": "#595959", "titleAngle": 180, "titleBaseline": "bottom", "titlePadding": 8
          }
        },
        "order": {"field": "t", "type": "quantitative"}
      }
    },
    {
      "data": {"name": "levels"},
      "mark": {"type": "line", "color": "#FBE2D2", "strokeWidth": 3, "strokeJoin": "round", "clip": true},
      "encoding": {
        "x": {
          "field": "middle", "type": "quantitative", "title": "Sound Pressure Level [dB(A)]",
          "scale": {"domain": [35, 65], "reverse": true, "nice": false, "zero": false}
        },
        "order": {"field": "t", "type": "quantitative"}
      }
    },
    {
      "data": {"name": "levels"},
      "mark": {"type": "line", "color": "#7030A0", "strokeWidth": 3, "strokeJoin": "round", "clip": true},
      "encoding": {
        "x": {
          "field": "lower", "type": "quantitative", "title": "Sound Pressure Level [dB(A)]",
          "scale": {"domain": [35, 65], "reverse": true, "nice": false, "zero": false}
        },
        "order": {"field": "t", "type": "quantitative"}
      }
    },
    {
      "data": {"name": "events"},
      "mark": {"type": "rule", "color": "#4472C4", "strokeWidth": 2},
      "encoding": {}
    }
  ]
}
